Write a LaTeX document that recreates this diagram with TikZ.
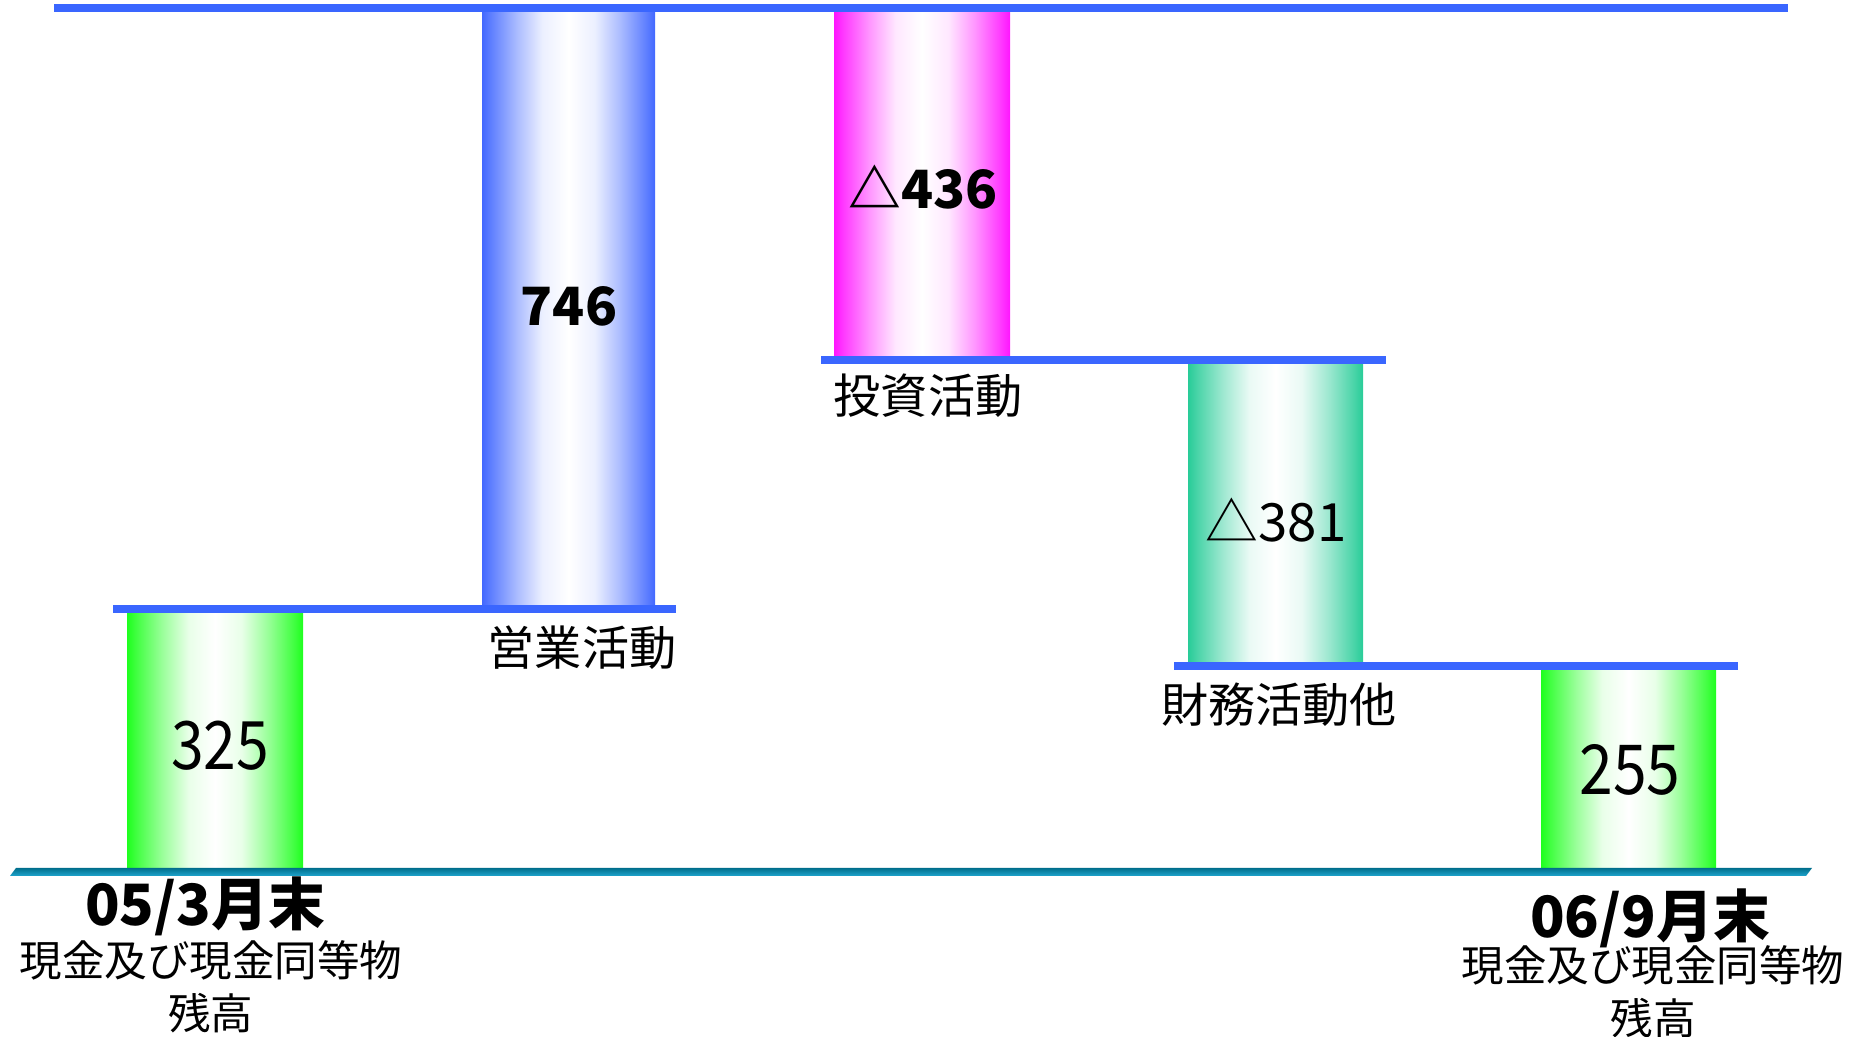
\documentclass[tikz,border=0pt]{standalone}
\usepackage{fontspec}
\newfontfamily\jpfont{Noto Sans CJK JP}
\newfontfamily\jpnarrow[FakeStretch=0.88]{Noto Sans CJK JP}
\usetikzlibrary{calc}

\definecolor{levelblue}{RGB}{58,102,255}
\definecolor{opblue}{RGB}{66,104,255}
\definecolor{invpink}{RGB}{255,20,255}
\definecolor{finteal}{RGB}{40,204,152}
\definecolor{cashgreen}{RGB}{30,255,30}
\definecolor{basedark}{RGB}{0,110,140}
\definecolor{baselight}{RGB}{30,165,205}

% white in the middle of each bar
\newcommand\barshading[2]{\pgfdeclarehorizontalshading{#1}{100bp}{color(0bp)=(#2); color(25bp)=(#2); color(27.5bp)=(#2!85!white); color(35bp)=(#2!45!white); color(42.5bp)=(#2!10!white); color(50bp)=(white); color(57.5bp)=(#2!10!white); color(65bp)=(#2!45!white); color(72.5bp)=(#2!85!white); color(75bp)=(#2); color(100bp)=(#2)}}
\barshading{opshade}{opblue}
\barshading{invshade}{invpink}
\barshading{finshade}{finteal}
\barshading{cashshade}{cashgreen}

\begin{document}
\begin{tikzpicture}[x=0.01cm, y=-0.01cm,
    bigamount/.style={font=\jpnarrow\fontsize{19}{22}\selectfont},
    amount/.style={font=\jpfont\bfseries\fontsize{15}{18}\selectfont},
    actname/.style={font=\jpfont\fontsize{13.4}{16}\selectfont},
    datename/.style={font=\jpfont\bfseries\fontsize{16.2}{20}\selectfont},
    balname/.style={font=\jpfont\fontsize{12.1}{15}\selectfont, align=center}]

    \useasboundingbox (0,0) rectangle (1865,1037);

    % Opening balance
    \shade[shading=cashshade] (127,613) rectangle (303,868);
    \node[bigamount] (open) at (220,746) {325};

    % Operating
    \shade[shading=opshade] (482,12) rectangle (655,605);
    \node[amount] (oper) at (569,306) {746};
    \node[actname] (operlbl) at (582,648) {営業活動};

    % Investing
    \shade[shading=invshade] (834,12) rectangle (1010,356);
    \node[amount] (inv) at (923,187) {△436};
    \node[actname] (invlbl) at (928,396) {投資活動};

    % Financing and other
    \shade[shading=finshade] (1188,364) rectangle (1363,666);
    \node[font=\jpfont\fontsize{15}{18}\selectfont] (fin) at (1276,520) {△381};
    \node[actname] (finlbl) at (1279,705) {財務活動他};

    % Closing balance
    \shade[shading=cashshade] (1541,670) rectangle (1716,868);
    \node[bigamount, font=\jpnarrow\fontsize{19.6}{22}\selectfont] (close) at (1630,770) {255};

    % Level lines
    \fill[levelblue] (54,4) rectangle (1788,12);
    \fill[levelblue] (113,605) rectangle (676,613);
    \fill[levelblue] (821,356) rectangle (1386,364);
    \fill[levelblue] (1174,662) rectangle (1738,670);

    % Base line
    \shade[top color=basedark, bottom color=baselight] (10,876) -- (16,868) -- (1812,868) -- (1806,876) -- cycle;

    % Dates
    \node[datename] (opendate) at (205,906) {05/3月末};
    \node[balname] (openbal) at (211,987) {現金及び現金同等物\\残高};
    \node[datename] (closedate) at (1650,918) {06/9月末};
    \node[balname] (closebal) at (1653,992) {現金及び現金同等物\\残高};

\end{tikzpicture}
\end{document}
